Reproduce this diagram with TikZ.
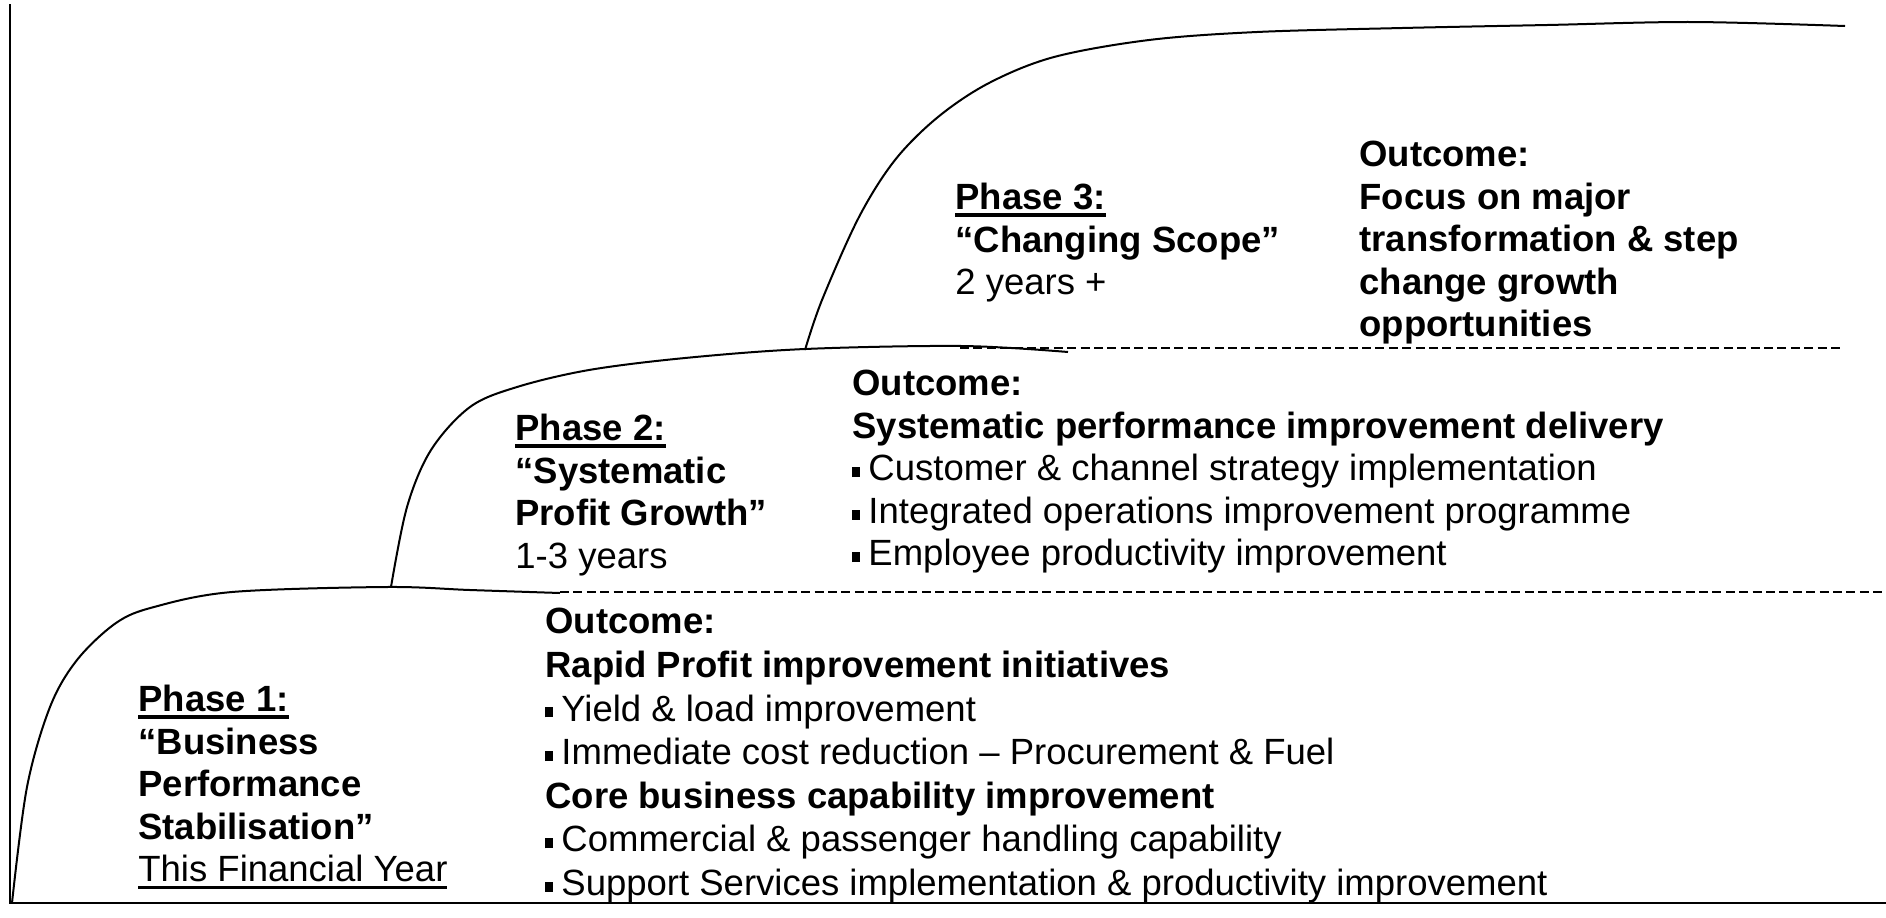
\documentclass[tikz,border=0pt]{standalone}
\usepackage{fontspec}
\setmainfont{Liberation Sans}
\usetikzlibrary{positioning}

% underlined word with a rule of its own thickness
\newcommand\undl[2][1.6pt]{\leavevmode\setbox0\hbox{#2}\rlap{\rule[-3.4pt]{\wd0}{#1}}\box0}
% small square bullet
\newcommand\sqb{\rule[0.1em]{0.22em}{0.28em}\hspace{0.22em}}

\begin{document}
\begin{tikzpicture}[x=0.5pt,y=-0.5pt,
    txt/.style={anchor=north west,inner sep=0pt,align=left,
        font=\fontsize{18.25}{21.25}\selectfont},
    widetxt/.style={txt,font=\fontsize{18.25}{21.8}\selectfont},
    axis/.style={line width=1pt},
    phasecurve/.style={line width=1pt},
    gridline/.style={line width=0.7pt,dash pattern=on 4.5pt off 2.2pt}]
\useasboundingbox (0,0) rectangle (1886,917);

% Axes
\coordinate (top) at (10,4);
\coordinate (origin) at (10,903);
\coordinate (far) at (1886,903);
\draw[axis] (top) -- (origin) -- (far);

% Growth curves
\draw[phasecurve] plot[smooth,tension=0.55] coordinates {(12,903) (27,787)
    (50,707) (77,660) (116,623) (154,607) (232,592) (386,587) (470,590) (560,593)};
\draw[phasecurve] plot[smooth,tension=0.55] coordinates {(391,587) (407,507)
    (431,450) (470,407) (517,387) (589,370) (685,358) (805,349) (962,346) (1068,352)};
\draw[phasecurve] plot[smooth,tension=0.55] coordinates {(805,350) (822,300)
    (859,217) (895,160) (938,117) (989,83) (1054,57) (1149,40) (1257,32)
    (1402,28) (1547,25) (1692,22) (1845,26)};

% Dashed phase limits
\coordinate (lowa) at (560,592);
\coordinate (lowb) at (1886,592);
\coordinate (higha) at (960,348);
\coordinate (highb) at (1843,348);
\draw[gridline] (lowa) -- (lowb);
\draw[gridline] (higha) -- (highb);

% Phase 1
\node[txt] (p1) at (138,685) {\undl{\textbf{Phase 1:}}\\ \textbf{“Business}\\
    \textbf{Performance}\\ \textbf{Stabilisation”}\\ \undl[1.1pt]{This Financial Year}};
\node[widetxt] (o1) at (545,608) {\textbf{Outcome:}\\
    \textbf{Rapid Profit improvement initiatives}\\
    \sqb Yield \& load improvement\\
    \sqb Immediate cost reduction -- Procurement \& Fuel\\
    \textbf{Core business capability improvement}\\
    \sqb Commercial \& passenger handling capability\\
    \sqb Support Services implementation \& productivity improvement};

% Phase 2
\node[txt] (p2) at (515,414) {\undl{\textbf{Phase 2:}}\\ \textbf{“Systematic}\\
    \textbf{Profit Growth”}\\ 1-3 years};
\node[txt] (o2) at (852,370) {\textbf{Outcome:}\\
    \textbf{Systematic performance improvement delivery}\\
    \sqb Customer \& channel strategy implementation\\
    \sqb Integrated operations improvement programme\\
    \sqb Employee productivity improvement};

% Phase 3
\node[txt] (p3) at (955,183) {\undl{\textbf{Phase 3:}}\\ \textbf{“Changing Scope”}\\
    2 years +};
\node[txt] (o3) at (1359,141) {\textbf{Outcome:}\\ \textbf{Focus on major}\\
    \textbf{transformation \& step}\\ \textbf{change growth}\\ \textbf{opportunities}};
\end{tikzpicture}
\end{document}
